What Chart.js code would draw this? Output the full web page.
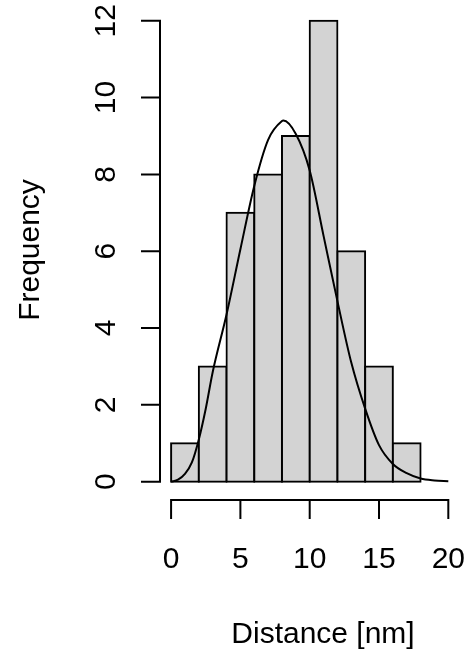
<!DOCTYPE html>
<html>
<head>
<meta charset="utf-8">
<script src="https://cdn.jsdelivr.net/npm/chart.js@4.4.1/dist/chart.umd.min.js"></script>
<style>
  html, body { margin: 0; padding: 0; background: #ffffff; }
  #wrap { width: 468px; height: 652px; }
</style>
</head>
<body>
<div id="wrap"><canvas id="c" width="468" height="652"></canvas></div>
<script>
// ---- data ----
const binMids = [1, 3, 5, 7, 9, 11, 13, 15, 17];
const counts  = [1, 3, 7, 8, 9, 12, 6, 3, 1];

const curveX = [0, 0.5, 1, 1.5, 2, 2.5, 3, 4, 5, 6, 7, 8, 8.1, 9, 10, 11, 12, 13, 14, 15, 16, 17, 18, 19, 20];
const curveY = [0, 0.05, 0.2, 0.5, 1.1, 1.9, 2.85, 4.35, 6.05, 7.7, 8.9, 9.39, 9.4, 9.05, 8.1, 6.4, 4.7, 3.1, 1.9, 0.95, 0.46, 0.22, 0.08, 0.03, 0.01];

const xTicks = [0, 5, 10, 15, 20];
const yTicks = [0, 2, 4, 6, 8, 10, 12];

const xTitle = 'Distance [nm]';
const yTitle = 'Frequency';

const FONT = '30px "Liberation Sans", Arial, Helvetica, sans-serif';

const axesPlugin = {
  id: 'rAxes',
  afterDraw(chart) {
    const ctx = chart.ctx;
    const xs = chart.scales.x, ys = chart.scales.y;
    const area = chart.chartArea;
    const tick = 19;
    ctx.save();
    ctx.strokeStyle = '#000';
    ctx.fillStyle = '#000';
    ctx.lineWidth = 2;
    ctx.lineCap = 'butt';
    // x axis
    const yAx = area.bottom;
    ctx.beginPath();
    ctx.moveTo(xs.getPixelForValue(xTicks[0]) - 1, yAx);
    ctx.lineTo(xs.getPixelForValue(xTicks[xTicks.length - 1]) + 1, yAx);
    xTicks.forEach(v => {
      const px = xs.getPixelForValue(v);
      ctx.moveTo(px, yAx);
      ctx.lineTo(px, yAx + tick);
    });
    ctx.stroke();
    // y axis
    const xAx = area.left;
    ctx.beginPath();
    ctx.moveTo(xAx, ys.getPixelForValue(yTicks[0]) + 1);
    ctx.lineTo(xAx, ys.getPixelForValue(yTicks[yTicks.length - 1]) - 1);
    yTicks.forEach(v => {
      const py = ys.getPixelForValue(v);
      ctx.moveTo(xAx, py);
      ctx.lineTo(xAx - tick, py);
    });
    ctx.stroke();

    ctx.font = FONT;
    ctx.textAlign = 'center';
    ctx.textBaseline = 'alphabetic';
    xTicks.forEach(v => {
      ctx.fillText(String(v), xs.getPixelForValue(v), 568);
    });
    yTicks.forEach(v => {
      ctx.save();
      ctx.translate(115, ys.getPixelForValue(v));
      ctx.rotate(-Math.PI / 2);
      ctx.fillText(String(v), 0, 0);
      ctx.restore();
    });
    // titles
    ctx.fillText(xTitle, 323, 643);
    ctx.save();
    ctx.translate(39, 250);
    ctx.rotate(-Math.PI / 2);
    ctx.fillText(yTitle, 0, 0);
    ctx.restore();
    ctx.restore();
  }
};

new Chart(document.getElementById('c'), {
  type: 'bar',
  data: {
    datasets: [
      {
        type: 'line',
        data: curveX.map((x, i) => ({ x: x, y: curveY[i] })),
        borderColor: '#000000',
        borderWidth: 2,
        pointRadius: 0,
        fill: false,
        cubicInterpolationMode: 'monotone',
        order: 0
      },
      {
        type: 'bar',
        data: binMids.map((x, i) => ({ x: x, y: counts[i] })),
        backgroundColor: '#D3D3D3',
        borderColor: '#000000',
        borderWidth: 2,
        inflateAmount: 1,
        borderSkipped: false,
        barPercentage: 1.0,
        categoryPercentage: 1.0,
        grouped: false,
        order: 1
      }
    ]
  },
  options: {
    responsive: false,
    animation: false,
    events: [],
    layout: { padding: { left: 160, right: 8.6, top: 2.3, bottom: 151.9 } },
    plugins: { legend: { display: false }, tooltip: { enabled: false } },
    scales: {
      x: { type: 'linear', min: -0.8, max: 20.8, offset: false, display: false },
      y: { type: 'linear', min: -0.48, max: 12.48, display: false }
    }
  },
  plugins: [axesPlugin]
});
</script>
</body>
</html>
